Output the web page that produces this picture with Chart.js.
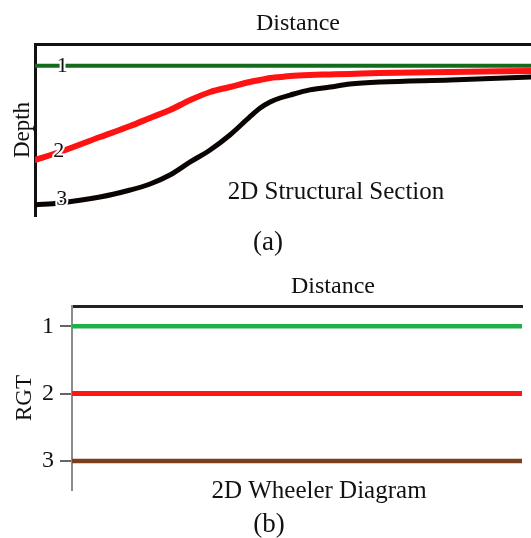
<!DOCTYPE html>
<html>
<head>
<meta charset="utf-8">
<script src="https://cdn.jsdelivr.net/npm/chart.js@4.4.1/dist/chart.umd.min.js"></script>
<style>
  html, body { margin: 0; padding: 0; background: #fff; }
  body { width: 531px; height: 538px; position: relative; overflow: hidden; }
  canvas { position: absolute; left: 0; }
  #ca { top: 0; }
  #cb { top: 260px; }
</style>
</head>
<body>
<canvas id="ca" width="531" height="260"></canvas>
<canvas id="cb" width="531" height="278"></canvas>
<script>
// ---------- Data: (a) 2D Structural Section ----------
const distanceA = [0, 5, 13.1, 19.2, 23.2, 27.2, 31.3, 35.3, 39.3, 43.3, 45.4, 47.4, 49.4, 51.4, 55.4, 59.5, 63.5, 69.6, 83.7, 100];
const horizon1Depth = [1.26, 1.26, 1.26, 1.26, 1.26, 1.26, 1.26, 1.26, 1.26, 1.26, 1.26, 1.26, 1.26, 1.26, 1.26, 1.26, 1.26, 1.26, 1.26, 1.26];
const horizon2Depth = [6.74, 6.28, 5.41, 4.77, 4.30, 3.84, 3.26, 2.79, 2.50, 2.21, 2.09, 1.98, 1.92, 1.86, 1.80, 1.77, 1.74, 1.69, 1.63, 1.57];
const horizon3Depth = [9.36, 9.24, 8.90, 8.49, 8.14, 7.62, 6.86, 6.16, 5.29, 4.24, 3.72, 3.37, 3.14, 2.97, 2.67, 2.50, 2.33, 2.21, 2.09, 1.92];
const horizonNames = ['1', '2', '3'];

// ---------- Data: (b) 2D Wheeler Diagram ----------
const distanceB = [0, 100];
const rgt1 = [1, 1];
const rgt2 = [2, 2];
const rgt3 = [3, 3];
const rgtTicks = [1, 2, 3];

const SERIF = "'Liberation Serif', 'Times New Roman', serif";
const toXY = (xs, ys) => xs.map((x, i) => ({ x: x, y: ys[i] }));

// caption text plugin (canvas coordinates from options)
const captionPlugin = {
  id: 'captions',
  afterDraw(chart, args, opts) {
    const ctx = chart.ctx;
    ctx.save();
    (opts.items || []).forEach(it => {
      ctx.font = it.size + 'px ' + SERIF;
      ctx.fillStyle = '#111';
      ctx.textAlign = 'center';
      ctx.textBaseline = 'alphabetic';
      ctx.fillText(it.text, it.x, it.y);
    });
    ctx.restore();
  }
};

// horizon number labels placed in data space
const horizonLabelPlugin = {
  id: 'horizonLabels',
  afterDatasetsDraw(chart, args, opts) {
    const ctx = chart.ctx;
    const xs = chart.scales.x, ys = chart.scales.y;
    ctx.save();
    (opts.items || []).forEach(it => {
      const px = xs.getPixelForValue(it.dist);
      const py = ys.getPixelForValue(it.depth);
      ctx.font = '22px ' + SERIF;
      ctx.textAlign = 'center';
      ctx.textBaseline = 'middle';
      ctx.lineJoin = 'round';
      ctx.strokeStyle = '#fff';
      ctx.lineWidth = 4;
      ctx.strokeText(it.text, px, py);
      ctx.fillStyle = '#111';
      ctx.fillText(it.text, px, py);
    });
    ctx.restore();
  }
};

// ---------- Chart (a) ----------
new Chart(document.getElementById('ca'), {
  type: 'line',
  data: {
    datasets: [
      { label: 'Horizon 1', data: toXY(distanceA, horizon1Depth), borderColor: '#146b1c', borderWidth: 4 },
      { label: 'Horizon 2', data: toXY(distanceA, horizon2Depth), borderColor: '#ff1212', borderWidth: 6 },
      { label: 'Horizon 3', data: toXY(distanceA, horizon3Depth), borderColor: '#0a0402', borderWidth: 5 }
    ]
  },
  options: {
    responsive: false,
    animation: false,
    events: [],
    elements: { point: { radius: 0 }, line: { cubicInterpolationMode: 'monotone', borderCapStyle: 'round' } },
    layout: { autoPadding: false, padding: { top: 0, left: 0, right: 0, bottom: 44 } },
    plugins: {
      legend: { display: false },
      tooltip: { enabled: false },
      horizonLabels: { items: [
        { text: horizonNames[0], dist: 5.5, depth: 1.3 },
        { text: horizonNames[1], dist: 4.8, depth: 6.22 },
        { text: horizonNames[2], dist: 5.4, depth: 9.0 }
      ] },
      captions: { items: [
        { text: 'Distance', x: 298, y: 30, size: 24 },
        { text: '2D Structural Section', x: 336, y: 199, size: 25 },
        { text: '(a)', x: 268, y: 250, size: 27 }
      ] }
    },
    scales: {
      x: {
        type: 'linear', position: 'top', min: 0, max: 100,
        ticks: { display: false },
        grid: { display: false },
        border: { display: true, color: '#111', width: 3 },
        title: { display: false },
        afterFit(scale) { scale.height = 44; }
      },
      y: {
        type: 'linear', position: 'left', min: 0, max: 10, reverse: true,
        ticks: { display: false },
        grid: { display: false },
        border: { display: true, color: '#111', width: 3 },
        title: { display: true, text: 'Depth', color: '#111', font: { family: SERIF, size: 23 }, padding: { top: 9, bottom: 0 } },
        afterFit(scale) { scale.width = 35; }
      }
    }
  },
  plugins: [horizonLabelPlugin, captionPlugin]
});

// ---------- Chart (b) ----------
new Chart(document.getElementById('cb'), {
  type: 'line',
  data: {
    datasets: [
      { label: 'RGT 1', data: toXY(distanceB, rgt1), borderColor: '#1fb04a', borderWidth: 4.5 },
      { label: 'RGT 2', data: toXY(distanceB, rgt2), borderColor: '#ff1717', borderWidth: 5 },
      { label: 'RGT 3', data: toXY(distanceB, rgt3), borderColor: '#7a3f1e', borderWidth: 4.5 }
    ]
  },
  options: {
    responsive: false,
    animation: false,
    events: [],
    elements: { point: { radius: 0 }, line: { borderCapStyle: 'butt' } },
    layout: { autoPadding: false, padding: { top: 0, left: 0, right: 9, bottom: 48 } },
    plugins: {
      legend: { display: false },
      tooltip: { enabled: false },
      captions: { items: [
        { text: 'Distance', x: 333, y: 33, size: 24 },
        { text: '2D Wheeler Diagram', x: 319, y: 238, size: 25 },
        { text: '(b)', x: 269, y: 272, size: 27 }
      ] }
    },
    scales: {
      x: {
        type: 'linear', position: 'top', min: 0, max: 100,
        ticks: { display: false },
        grid: { display: false },
        border: { display: true, color: '#222', width: 3 },
        title: { display: false },
        afterFit(scale) { scale.height = 46; }
      },
      y: {
        type: 'linear', position: 'left', min: 0.7, max: 3.43, reverse: true,
        afterBuildTicks(scale) { scale.ticks = rgtTicks.map(v => ({ value: v })); },
        ticks: { color: '#111', font: { family: SERIF, size: 24 }, padding: 6, callback: v => String(v) },
        grid: { display: true, drawOnChartArea: false, drawTicks: true, tickLength: 12, color: '#666', lineWidth: 2 },
        border: { display: true, color: '#8c8c8c', width: 2 },
        title: { display: true, text: 'RGT', color: '#111', font: { family: SERIF, size: 23 }, padding: { top: 11, bottom: 0 } },
        afterFit(scale) { scale.width = 72; }
      }
    }
  },
  plugins: [captionPlugin]
});
</script>
</body>
</html>
